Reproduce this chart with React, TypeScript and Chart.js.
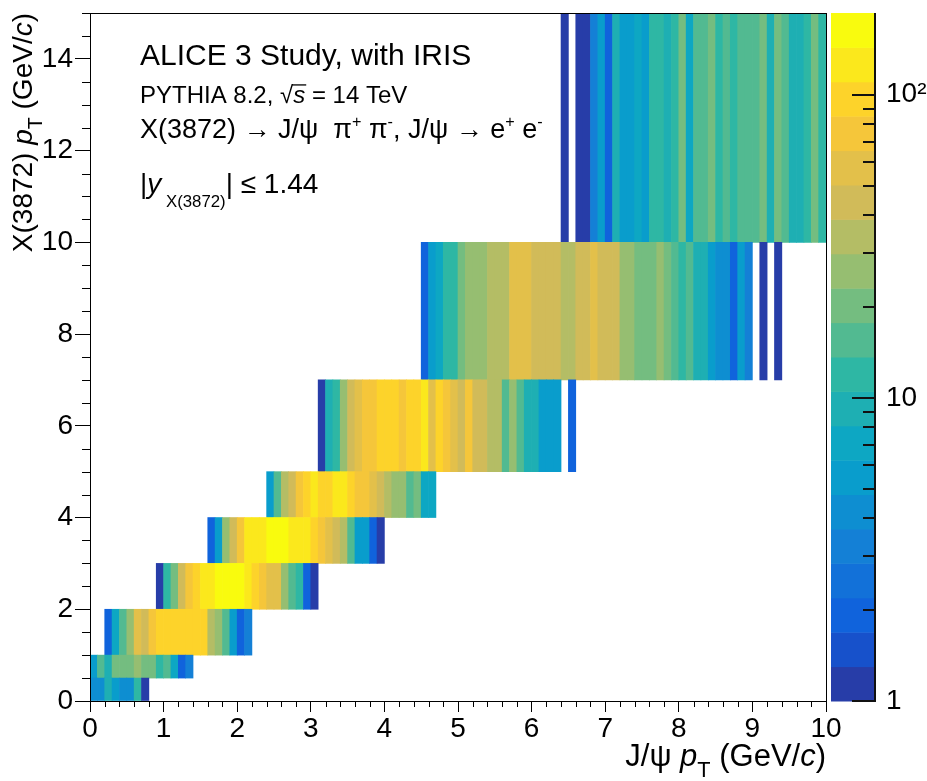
import React, { useEffect, useRef } from 'react';
import { Chart, registerables } from 'chart.js';

Chart.register(...registerables);

// ---------------- data ----------------
const BIN_WIDTH = 0.1; // J/psi pT bin width (GeV/c)
const Y_EDGES = [0, 0.5, 1, 2, 3, 4, 5, 7, 10, 15]; // X(3872) pT bin edges
// first J/psi pT bin index of each X(3872) pT row
const ROW_START = [0, 0, 2, 9, 16, 24, 31, 45, 64];

const ROW_0_05 = [4, 4, 9, 6, 4, 4, 12, 1];
const ROW_05_1 = [6, 16, 9, 20, 20, 20, 27, 20, 20, 12, 16, 7, 2, 3];
const ROW_1_2 = [2, 7, 16, 27, 58, 45, 75, 98, 98, 110, 98, 98, 98, 98, 35, 27, 16, 6, 2, 3];
const ROW_2_3 = [1, 12, 20, 45, 75, 98, 125, 125, 165, 165, 165, 165, 125, 98, 75, 58, 58, 27, 16, 12, 2, 1];
const ROW_3_4 = [2, 6, 27, 45, 75, 125, 125, 125, 165, 165, 165, 125, 125, 125, 98, 75, 58, 45, 35, 16, 6, 6, 2, 1];
const ROW_4_5 = [6, 16, 35, 45, 75, 98, 125, 98, 98, 125, 125, 98, 75, 75, 58, 45, 35, 27, 27, 16, 20, 7, 7];
const ROW_5_7 = [1, 9, 12, 27, 45, 58, 75, 75, 98, 98, 98, 75, 98, 98, 125, 58, 98, 75, 58, 45, 75, 45, 45, 35, 35, 16, 27, 16, 9, 9, 6, 6, 6, 0, 2];
const ROW_7_10 = [2, 6, 7, 12, 12, 20, 27, 27, 27, 35, 35, 35, 58, 58, 58, 45, 45, 45, 45, 35, 35, 45, 45, 58, 45, 45, 45, 27, 27, 20, 20, 20, 27, 20, 16, 12, 16, 9, 9, 6, 4, 4, 2, 6, 3, 0, 1, 0, 1];
const ROW_10_15 = [1, 0, 1, 1, 3, 6, 2, 9, 6, 6, 7, 6, 12, 12, 9, 12, 20, 7, 16, 16, 20, 12, 16, 12, 16, 16, 16, 20, 9, 20, 16, 9, 9, 12, 20, 12];

const ROWS = [ROW_0_05, ROW_05_1, ROW_1_2, ROW_2_3, ROW_3_4, ROW_4_5, ROW_5_7, ROW_7_10, ROW_10_15];

const X_MIN = 0, X_MAX = 10, X_STEP = 1, X_MINOR = 0.2;
const Y_MIN = 0, Y_MAX = 15, Y_STEP = 2, Y_MINOR = 0.5;
const Z_MIN = 1, Z_MAX = 186, N_CONTOURS = 20;
const Z_TICKS = [1, 10, 100];
const Z_TICK_LABELS = ['1', '10', '10²'];
const Z_MINOR = [2, 3, 4, 5, 6, 7, 8, 9, 20, 30, 40, 50, 60, 70, 80, 90];

// ---------------- palette (ROOT kBird) ----------------
const BIRD_STOPS = [0, 0.125, 0.25, 0.375, 0.5, 0.625, 0.75, 0.875, 1];
const BIRD_R = [0.2082, 0.0592, 0.078, 0.0232, 0.1802, 0.5301, 0.8186, 0.9956, 0.9764];
const BIRD_G = [0.1664, 0.3599, 0.5041, 0.6419, 0.7178, 0.7492, 0.7328, 0.7862, 0.9832];
const BIRD_B = [0.5293, 0.8684, 0.8385, 0.7914, 0.6425, 0.4662, 0.3499, 0.1968, 0.0539];

function bird(t: number): string {
  let k = 0;
  while (k < BIRD_STOPS.length - 2 && t > BIRD_STOPS[k + 1]) k++;
  const f = (t - BIRD_STOPS[k]) / (BIRD_STOPS[k + 1] - BIRD_STOPS[k]);
  const c = (a: number[]) => Math.round(255 * (a[k] + (a[k + 1] - a[k]) * f));
  return `rgb(${c(BIRD_R)},${c(BIRD_G)},${c(BIRD_B)})`;
}
function contourColor(i: number): string {
  const idx = Math.floor(((i + 0.99) * 255) / N_CONTOURS);
  return bird(Math.min(1, idx / 254));
}
const LMIN = Math.log10(Z_MIN), LMAX = Math.log10(Z_MAX);
function valueColor(v: number): string {
  let i = Math.floor(((Math.log10(v) - LMIN) / (LMAX - LMIN)) * N_CONTOURS);
  i = Math.max(0, Math.min(N_CONTOURS - 1, i));
  return contourColor(i);
}

// ---------------- rich text ----------------
const FAMILY = "'Liberation Sans', Arial, Helvetica, sans-serif";
type Seg = { t: string; s?: number; it?: boolean; dy?: number; over?: boolean };
function fontOf(size: number, it?: boolean) {
  return `${it ? 'italic ' : ''}${size}px ${FAMILY}`;
}
function drawRich(ctx: CanvasRenderingContext2D, segs: Seg[], x: number, y: number, size: number, align: 'left' | 'right' = 'left') {
  const ms = segs.map((g) => {
    const fs = size * (g.s ?? 1);
    ctx.font = fontOf(fs, g.it);
    return { g, fs, w: ctx.measureText(g.t).width };
  });
  const total = ms.reduce((a, m) => a + m.w, 0);
  let cx = align === 'right' ? x - total : x;
  ctx.textBaseline = 'alphabetic';
  ctx.textAlign = 'left';
  ctx.fillStyle = '#000';
  for (const m of ms) {
    ctx.font = fontOf(m.fs, m.g.it);
    const yy = y + (m.g.dy ?? 0) * size;
    ctx.fillText(m.g.t, cx, yy);
    if (m.g.over) ctx.fillRect(cx - 1, yy - m.fs * 0.78, m.w + 2, 1.3);
    cx += m.w;
  }
}

const TEXT_L1: Seg[] = [{ t: 'ALICE 3 Study, with IRIS' }];
const TEXT_L2: Seg[] = [{ t: 'PYTHIA 8.2, √' }, { t: 's', it: true, over: true }, { t: ' = 14 TeV' }];
const SUP = 0.6, SUPDY = -0.42;
const TEXT_L3: Seg[] = [
  { t: 'X(3872) → J/ψ  π' }, { t: '+', s: SUP, dy: SUPDY }, { t: ' π' }, { t: '-', s: SUP, dy: SUPDY },
  { t: ', J/ψ → e' }, { t: '+', s: SUP, dy: SUPDY }, { t: ' e' }, { t: '-', s: SUP, dy: SUPDY },
];
const TEXT_L4: Seg[] = [{ t: '|' }, { t: 'y', it: true }, { t: ' X(3872)', s: 0.6, dy: 0.5 }, { t: '| ≤ 1.44' }];
const X_TITLE: Seg[] = [{ t: 'J/ψ ' }, { t: 'p', it: true }, { t: 'T', s: 0.7, dy: 0.35 }, { t: ' (GeV/' }, { t: 'c', it: true }, { t: ')' }];
const Y_TITLE: Seg[] = [{ t: 'X(3872) ' }, { t: 'p', it: true }, { t: 'T', s: 0.7, dy: 0.35 }, { t: ' (GeV/' }, { t: 'c', it: true }, { t: ')' }];

const decor = {
  id: 'decor',
  afterDraw(chart: any) {
    const { ctx, chartArea: a, scales } = chart;
    const xs = scales.x, ys = scales.y, zs = scales.z;
    ctx.save();
    ctx.fillStyle = '#000';
    // minor ticks
    for (let v = X_MIN; v <= X_MAX + 1e-9; v += X_MINOR) {
      if (Math.abs(v - Math.round(v / X_STEP) * X_STEP) < 1e-6) continue;
      const px = Math.round(xs.getPixelForValue(v));
      ctx.fillRect(px, a.bottom, 1, 6);
    }
    for (let v = Y_MIN; v <= Y_MAX + 1e-9; v += Y_MINOR) {
      if (Math.abs(v - Math.round(v / Y_STEP) * Y_STEP) < 1e-6) continue;
      const py = Math.round(ys.getPixelForValue(v));
      ctx.fillRect(a.left - 8, py, 8, 1);
    }
    // frame
    const L = Math.round(a.left), R = Math.round(a.right), T = Math.round(a.top), B = Math.round(a.bottom);
    ctx.fillRect(L, T, R - L + 1, 1);
    ctx.fillRect(L, B, R - L + 1, 1);
    ctx.fillRect(L, T, 1, B - T + 1);
    ctx.fillRect(R, T, 1, B - T + 1);

    // colour bar
    const x0 = R + 5, x1 = R + 48;
    for (let i = 0; i < N_CONTOURS; i++) {
      const lo = Math.pow(10, LMIN + ((LMAX - LMIN) * i) / N_CONTOURS);
      const hi = Math.pow(10, LMIN + ((LMAX - LMIN) * (i + 1)) / N_CONTOURS);
      const yLo = zs.getPixelForValue(lo), yHi = zs.getPixelForValue(hi);
      ctx.fillStyle = contourColor(i);
      ctx.fillRect(x0, yHi, x1 - x0, yLo - yHi + 0.5);
    }
    ctx.fillStyle = '#111';
    ctx.fillRect(x1, T, 2, B - T + 1);
    for (const v of Z_TICKS) {
      const py = Math.round(zs.getPixelForValue(v));
      ctx.fillRect(x1 - 22, py - 1, 22, 2);
    }
    for (const v of Z_MINOR) {
      if (v > Z_MAX) continue;
      const py = Math.round(zs.getPixelForValue(v));
      ctx.fillRect(x1 - 11, py - 1, 11, 2);
    }

    // texts
    drawRich(ctx, TEXT_L1, 140, 65, 30);
    drawRich(ctx, TEXT_L2, 140, 103, 24);
    drawRich(ctx, TEXT_L3, 140, 138, 27);
    drawRich(ctx, TEXT_L4, 140, 193, 28);
    drawRich(ctx, X_TITLE, a.right, 766, 31, 'right');
    ctx.save();
    ctx.translate(32, a.top);
    ctx.rotate(-Math.PI / 2);
    drawRich(ctx, Y_TITLE, 0, 0, 28, 'right');
    ctx.restore();
    ctx.restore();
  },
};

export default function App() {
  const ref = useRef<HTMLCanvasElement>(null);
  useEffect(() => {
    const datasets = ROWS.map((vals, r) => {
      const pts: any[] = [];
      const cols: string[] = [];
      vals.forEach((v, j) => {
        if (v <= 0) return;
        const k = ROW_START[r] + j;
        pts.push({ x: (k + 0.5) * BIN_WIDTH, y: [Y_EDGES[r], Y_EDGES[r + 1]] });
        cols.push(valueColor(v));
      });
      return {
        label: `${Y_EDGES[r]}-${Y_EDGES[r + 1]}`,
        data: pts,
        backgroundColor: cols,
        borderWidth: 0,
        barPercentage: 1,
        categoryPercentage: 1,
        grouped: false,
      };
    });
    const tickFont = { family: FAMILY, size: 28 };
    const vTickFont = { family: FAMILY, size: 28, lineHeight: 0.7 };
    const chart = new Chart(ref.current as HTMLCanvasElement, {
      type: 'bar',
      data: { datasets } as any,
      plugins: [decor],
      options: {
        responsive: false,
        animation: false,
        devicePixelRatio: 1,
        layout: { padding: { top: 13, left: 0, right: 0, bottom: 0 } },
        plugins: { legend: { display: false }, tooltip: { enabled: false } },
        scales: {
          x: {
            type: 'linear', min: X_MIN, max: X_MAX, offset: false,
            grid: { display: true, drawOnChartArea: false, drawTicks: true, tickLength: 11, tickColor: '#000', color: '#000', offset: false },
            border: { display: false },
            ticks: { stepSize: X_STEP, includeBounds: false, padding: 0, color: '#000', font: tickFont, maxRotation: 0, autoSkip: false },
            afterFit: (s: any) => { s.height = 80; },
          },
          y: {
            type: 'linear', min: Y_MIN, max: Y_MAX,
            grid: { display: true, drawOnChartArea: false, drawTicks: true, tickLength: 15, tickColor: '#000', color: '#000' },
            border: { display: false },
            ticks: { stepSize: Y_STEP, includeBounds: false, padding: 2, color: '#000', font: vTickFont, autoSkip: false },
            afterFit: (s: any) => { s.width = 90; },
          },
          z: {
            type: 'logarithmic', position: 'right', min: Z_MIN, max: Z_MAX,
            grid: { display: true, drawOnChartArea: false, drawTicks: true, tickLength: 60, tickColor: 'rgba(0,0,0,0)', color: 'rgba(0,0,0,0)' },
            border: { display: false },
            ticks: {
              padding: 0, color: '#000', font: vTickFont, autoSkip: false,
              callback: (v: any) => { const i = Z_TICKS.indexOf(Number(v)); return i >= 0 ? Z_TICK_LABELS[i] : ''; },
            },
            afterBuildTicks: (s: any) => { s.ticks = Z_TICKS.map((v) => ({ value: v })); },
            afterFit: (s: any) => { s.width = 101; },
          },
        } as any,
      },
    } as any);
    return () => chart.destroy();
  }, []);
  return (
    <div style={{ position: 'absolute', left: 0, top: 0, width: 927, height: 781, background: '#fff' }}>
      <canvas ref={ref} width={927} height={781} style={{ display: 'block', width: 927, height: 781 }} />
    </div>
  );
}
